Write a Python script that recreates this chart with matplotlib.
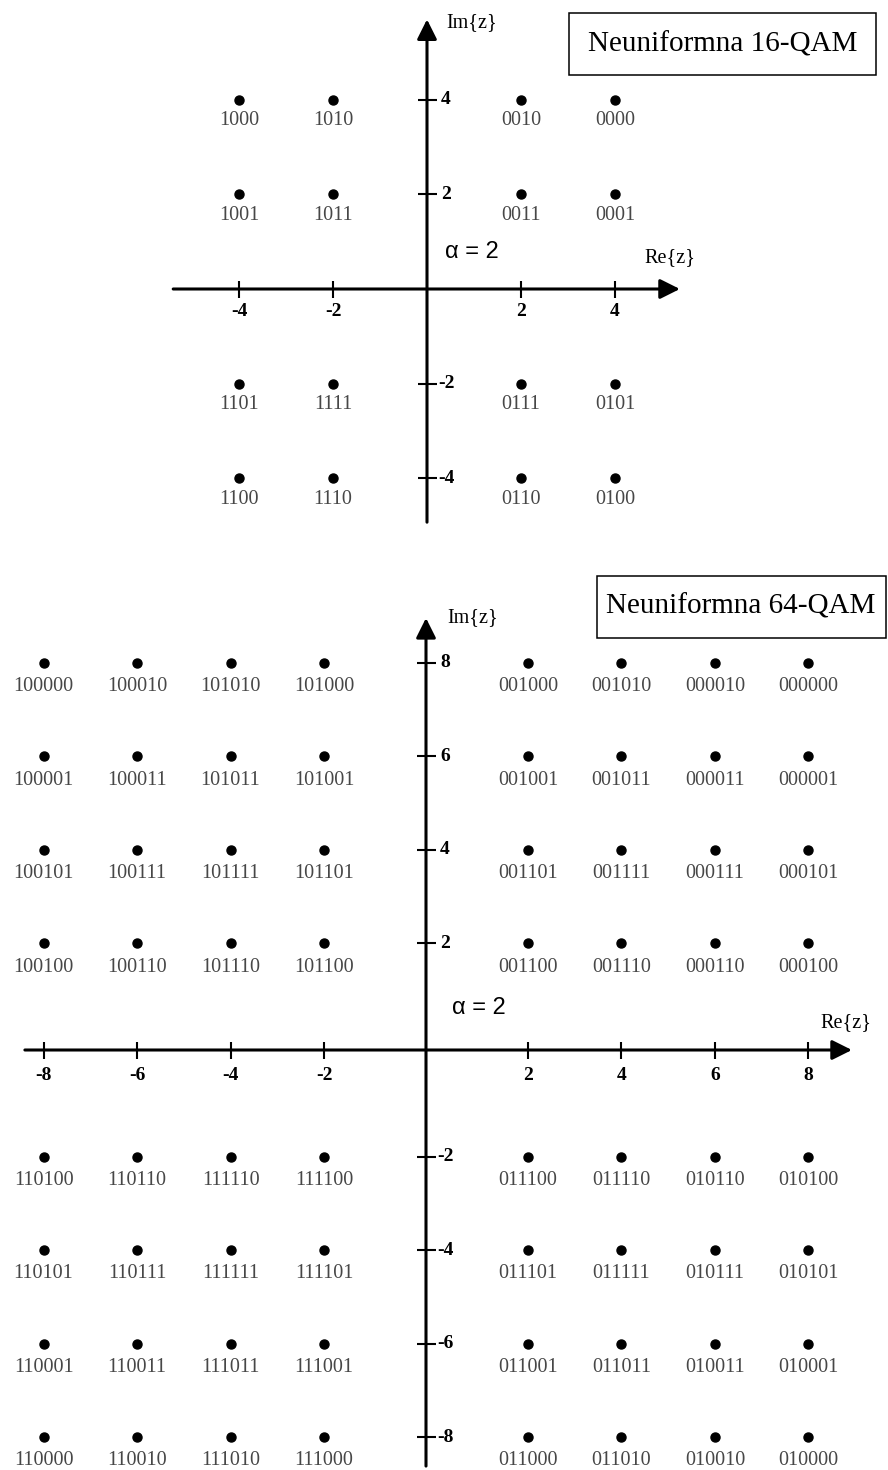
import matplotlib
matplotlib.use("Agg")
import matplotlib.pyplot as plt
from matplotlib.patches import Rectangle
import numpy as np

# ---------------- data ----------------
levels16 = [-4, -2, 2, 4]
rows16 = [4, 2, -2, -4]
bits16 = [
    ["1000", "1010", "0010", "0000"],
    ["1001", "1011", "0011", "0001"],
    ["1101", "1111", "0111", "0101"],
    ["1100", "1110", "0110", "0100"],
]
ticks16 = [-4, -2, 2, 4]

levels64 = [-8, -6, -4, -2, 2, 4, 6, 8]
rows64 = [8, 6, 4, 2, -2, -4, -6, -8]
bits64 = [
    ["100000", "100010", "101010", "101000", "001000", "001010", "000010", "000000"],
    ["100001", "100011", "101011", "101001", "001001", "001011", "000011", "000001"],
    ["100101", "100111", "101111", "101101", "001101", "001111", "000111", "000101"],
    ["100100", "100110", "101110", "101100", "001100", "001110", "000110", "000100"],
    ["110100", "110110", "111110", "111100", "011100", "011110", "010110", "010100"],
    ["110101", "110111", "111111", "111101", "011101", "011111", "010111", "010101"],
    ["110001", "110011", "111011", "111001", "011001", "011011", "010011", "010001"],
    ["110000", "110010", "111010", "111000", "011000", "011010", "010010", "010000"],
]
ticks64 = [-8, -6, -4, -2, 2, 4, 6, 8]

alpha_value = 2
titles = ["Neuniformna 16-QAM", "Neuniformna 64-QAM"]
xlabel = "Re{z}"
ylabel = "Im{z}"

# ---------------- layout ----------------
W, H, DPI = 888, 1470, 100
SERIF = ["Liberation Serif", "DejaVu Serif"]
SANS = ["Liberation Sans", "DejaVu Sans"]

fig = plt.figure(figsize=(W / DPI, H / DPI), dpi=DPI)
fig.patch.set_facecolor("white")


def make_axes(top_px, bot_px, ox, oy, ux, uy):
    ax = fig.add_axes([0, 1 - bot_px / H, 1, (bot_px - top_px) / H])
    ax.set_xlim(-ox / ux, (W - ox) / ux)
    ax.set_ylim((oy - bot_px) / uy, (oy - top_px) / uy)
    ax.axis("off")
    return ax


def place(v, shift):
    v = np.asarray(v, dtype=float)
    return v + np.sign(v) * shift


def diagram(ax, cols, rows, bits, ticks, ux, uy, xshift, yshift,
            hx, vy, lab_off, tick_lab_off, re_pos, alpha_pos, im_off):
    arrow = dict(arrowstyle="-|>,head_length=0.6,head_width=0.3", lw=2.2,
                 color="black", mutation_scale=20, shrinkA=0, shrinkB=0)
    # axes with arrows
    ax.annotate("", xy=(hx[1], 0), xytext=(hx[0], 0), arrowprops=arrow)
    ax.annotate("", xy=(0, vy[1]), xytext=(0, vy[0]), arrowprops=arrow)
    # ticks
    tx = place(ticks, xshift)
    ty = place(ticks, yshift)
    th_x = 8.5 / uy
    th_y = 9.5 / ux
    for v, p in zip(ticks, tx):
        ax.plot([p, p], [-th_x, th_x], color="black", lw=1.5, solid_capstyle="butt")
        ax.annotate(str(v), (p, 0), xytext=(0, tick_lab_off), textcoords="offset points",
                    ha="center", va="center", fontsize=14, fontweight="bold",
                    family=SERIF)
    for v, p in zip(ticks, ty):
        ax.plot([-th_y, th_y], [p, p], color="black", lw=1.5, solid_capstyle="butt")
        ax.annotate(str(v), (0, p), xytext=(8.0 if v < 0 else 10.0, 0),
                    textcoords="offset points", ha="left", va="center",
                    fontsize=14, fontweight="bold", family=SERIF)
    # constellation points
    px = place(cols, xshift)
    py = place(rows, yshift)
    gx, gy = np.meshgrid(px, py)
    ax.plot(gx.ravel(), gy.ravel(), "o", color="black", ms=6.5, ls="none")
    for i, yv in enumerate(py):
        for j, xv in enumerate(px):
            ax.annotate(bits[i][j], (xv, yv), xytext=(0, lab_off),
                        textcoords="offset points", ha="center", va="center",
                        fontsize=14.5, color="#474747", family=SERIF)
    # labels
    ax.text(re_pos[0], re_pos[1], xlabel, ha="center", va="center",
            fontsize=14.5, family=SERIF)
    ax.annotate(ylabel, (0, vy[1]), xytext=(im_off[0], im_off[1]),
                textcoords="offset points", ha="left", va="center",
                fontsize=14.5, family=SERIF)
    ax.text(alpha_pos[0], alpha_pos[1], "\u03b1 = %d" % alpha_value, ha="left",
            va="center", fontsize=17, family=SANS)


# ---- top: 16-QAM ----
ux1, uy1 = 47.0, 47.3
ax1 = make_axes(0, 560, 427, 289, ux1, uy1)
diagram(ax1, levels16, rows16, bits16, ticks16, ux1, uy1, 0.0, 0.0,
        hx=(-5.40, 5.38), vy=(-4.93, 5.70), lab_off=-15, tick_lab_off=-16.5,
        re_pos=(5.16, 0.66), alpha_pos=(0.38, 0.78), im_off=(14, -2))

# ---- bottom: 64-QAM ----
ux2 = uy2 = 46.75
ax2 = make_axes(570, 1470, 426, 1050, ux2, uy2)
diagram(ax2, levels64, rows64, bits64, ticks64, ux2, uy2, 0.18, 0.28,
        hx=(-8.58, 9.11), vy=(-8.9, 9.24), lab_off=-17, tick_lab_off=-18,
        re_pos=(8.98, 0.58), alpha_pos=(0.56, 0.90), im_off=(15, 0))

# ---- title boxes ----
boxes = [(569, 13, 307, 62), (597, 576, 289, 62)]
for (bx, by, bw, bh), title, anchor in zip(boxes, titles, ["center", "left"]):
    fig.patches.append(Rectangle((bx / W, 1 - (by + bh) / H), bw / W, bh / H,
                                 transform=fig.transFigure, fill=False,
                                 edgecolor="black", lw=1.1))
    if anchor == "center":
        tx_ = (bx + bw / 2) / W
    else:
        tx_ = (bx + 9) / W
    fig.text(tx_, 1 - (by + bh / 2) / H, title, ha=anchor, va="center",
             fontsize=21, family=SERIF)

fig.savefig("out.png", dpi=DPI, facecolor="white")
